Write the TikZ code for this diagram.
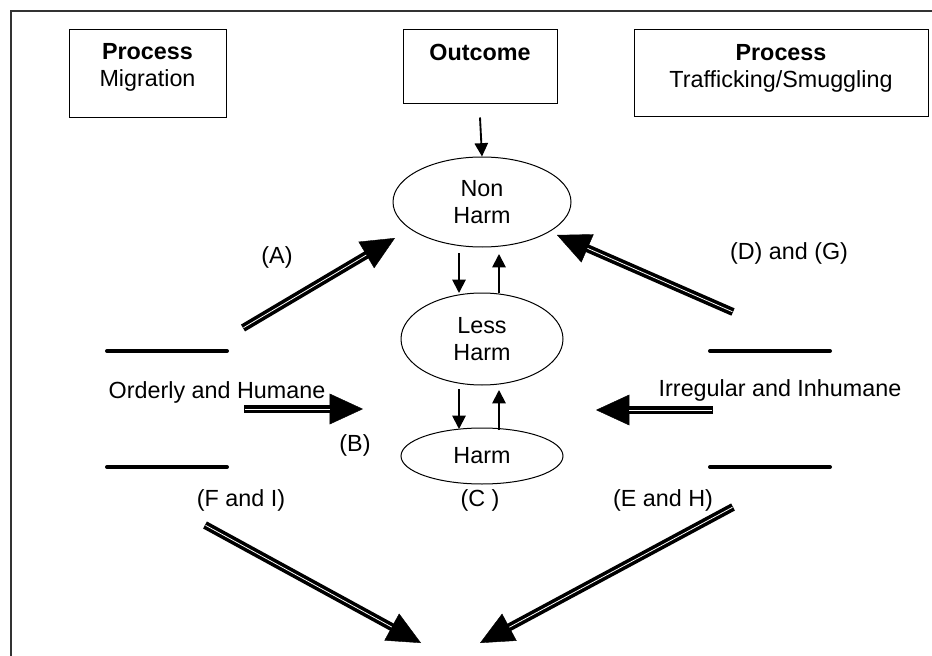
\documentclass[tikz,border=0pt]{standalone}
\usepackage{fontspec}
\setmainfont{Liberation Sans}
\usetikzlibrary{shapes.geometric,arrows.meta,calc}
\tikzset{
  lbl/.style={font=\fontsize{17.5}{20.3}\selectfont, inner sep=0pt, align=center},
  box/.style={draw, line width=0.75pt, inner sep=0pt},
  oval/.style={draw, ellipse, line width=0.75pt, inner sep=0pt, align=center,
    font=\fontsize{17.5}{20.3}\selectfont},
  smallarrow/.style={line width=1.4pt, -{Triangle[length=10pt,width=10pt]}},
  flatline/.style={line width=3pt, line cap=round},
  frame/.style={line width=1.2pt, black!80},
}
\newcommand\bigarrow[2]{%
  \draw[line width=0.3pt, -{Triangle[length=25pt,width=23pt]}] (#1) -- (#2);
  \draw[line width=6pt, line cap=butt, shorten >=20pt] (#1) -- (#2);
  \draw[white, line width=0.6pt, shorten >=25pt, shorten <=0.5pt] (#1) -- (#2);
}
\begin{document}
\begin{tikzpicture}[x=0.75pt,y=-0.75pt]
\useasboundingbox (0,0) rectangle (932,656);
\fill[white] (0,0) rectangle (932,656);
% outer frame
\draw[frame] (11,656) -- (11,11) -- (932,11);

% top boxes
\node[box, minimum width=117.75pt, minimum height=66pt] (lbox) at (147.5,74) {};
\node[lbl] (ltext) at (147.5,67) {\textbf{Process}\\Migration};
\node[box, minimum width=115.5pt, minimum height=55.5pt] (obox) at (480,67) {};
\node[lbl] (otext) at (480,52) {\textbf{Outcome}};
\node[box, minimum width=220.5pt, minimum height=65.25pt] (rbox) at (781,73.5) {};
\node[lbl] (rtext) at (781,68.5) {\textbf{Process}\\Trafficking/Smuggling};

% ellipses
\node[oval, minimum width=133.5pt, minimum height=67.5pt] (nonharm) at (482,202) {Non\\Harm};
\node[oval, minimum width=121.5pt, minimum height=69pt] (lessharm) at (482,339) {Less\\Harm};
\node[oval, minimum width=121.5pt, minimum height=42pt] (harm) at (482,456) {Harm};

% small arrows
\coordinate (o1) at ($(obox.south)+(0,13)$);
\draw[smallarrow] (o1) -- (nonharm.north);
\coordinate (d1a) at (459,253); \coordinate (d1b) at (459,293);
\coordinate (u1a) at (499,293); \coordinate (u1b) at (499,254);
\coordinate (d2a) at (459,389); \coordinate (d2b) at (459,429);
\coordinate (u2a) at (499,430); \coordinate (u2b) at (499,390);
\draw[smallarrow] (d1a) -- (d1b);
\draw[smallarrow] (u1a) -- (u1b);
\draw[smallarrow] (d2a) -- (d2b);
\draw[smallarrow] (u2a) -- (u2b);

% horizontal rules
\coordinate (l1a) at (107,351); \coordinate (l1b) at (227,351);
\coordinate (l2a) at (107,467); \coordinate (l2b) at (227,467);
\coordinate (r1a) at (710,351); \coordinate (r1b) at (830,351);
\coordinate (r2a) at (710,467); \coordinate (r2b) at (830,467);
\draw[flatline] (l1a) -- (l1b);
\draw[flatline] (l2a) -- (l2b);
\draw[flatline] (r1a) -- (r1b);
\draw[flatline] (r2a) -- (r2b);

% labels
\node[lbl] (la) at (277,257) {(A)};
\node[lbl] (ldg) at (789,253) {(D) and (G)};
\node[lbl] (lorder) at (217,392) {Orderly and Humane};
\node[lbl] (lirreg) at (780,390) {Irregular and Inhumane};
\node[lbl] (lb) at (355,445) {(B)};
\node[lbl] (lfi) at (241,500) {(F and I)};
\node[lbl] (lc) at (480,500) {(C )};
\node[lbl] (leh) at (663,500) {(E and H)};

% big double arrows
\coordinate (A1) at (243,328); \coordinate (A2) at (395,238);
\coordinate (D1) at (733,312); \coordinate (D2) at (557,235);
\coordinate (B1) at (244,409); \coordinate (B2) at (363,409);
\coordinate (E1) at (713,410); \coordinate (E2) at (596,410);
\coordinate (F1) at (205,525); \coordinate (F2) at (421,643);
\coordinate (H1) at (733,507); \coordinate (H2) at (480,643);
\bigarrow{A1}{A2}
\bigarrow{D1}{D2}
\bigarrow{B1}{B2}
\bigarrow{E1}{E2}
\bigarrow{F1}{F2}
\bigarrow{H1}{H2}
\end{tikzpicture}
\end{document}
